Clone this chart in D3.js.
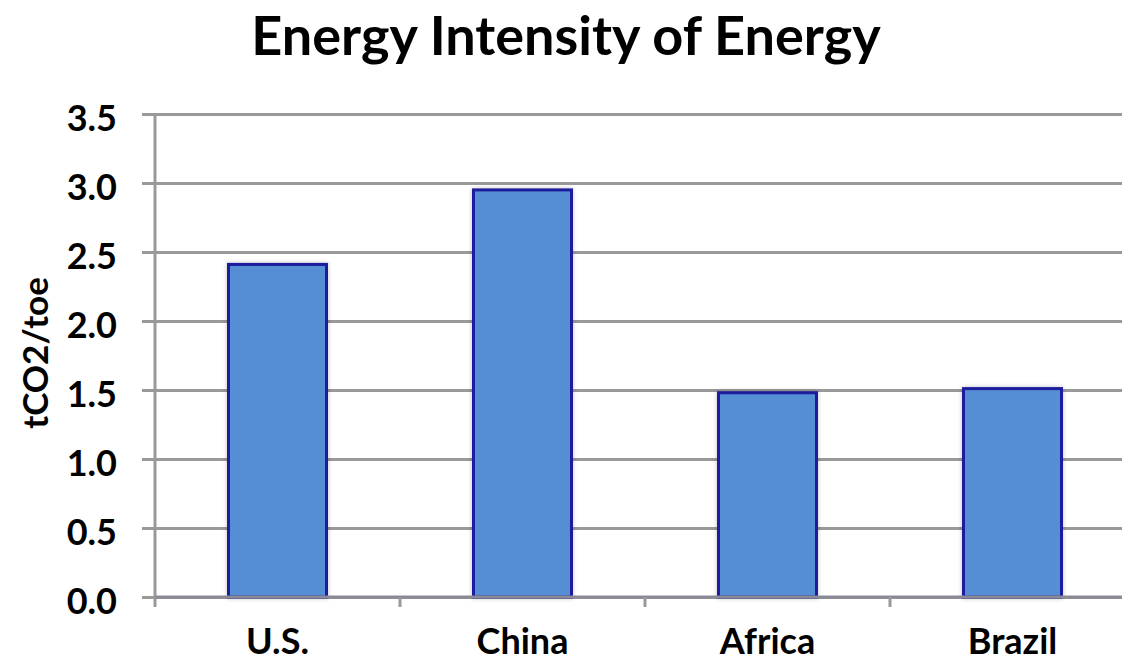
<!DOCTYPE html>
<html>
<head>
<meta charset="utf-8">
<script src="https://cdn.jsdelivr.net/npm/d3@7"></script>
<style>
  html, body { margin: 0; padding: 0; background: #fff; }
  svg { display: block; }
  text { font-family: "Lato", "Open Sans", sans-serif; font-weight: bold; fill: #000; }
</style>
</head>
<body>
<svg id="chart" width="1122" height="661"></svg>
<script>
const categories = ["U.S.", "China", "Africa", "Brazil"];
const values = [2.41, 2.95, 1.48, 1.51];
const yTicks = [0, 0.5, 1.0, 1.5, 2.0, 2.5, 3.0, 3.5];
const titleText = "Energy Intensity of Energy";
const yLabel = "tCO2/toe";

const svg = d3.select("#chart");
const W = 1122, H = 661;
const m = { left: 155, top: 114, bottom: 597 };
const step = 245;

const x = d3.scaleBand()
  .domain(categories)
  .range([m.left, m.left + step * categories.length])
  .paddingInner(0.6)
  .paddingOuter(0.3);

const y = d3.scaleLinear().domain([0, 3.5]).range([m.bottom, m.top]);

const defs = svg.append("defs");
const f = defs.append("filter").attr("id", "shadow")
  .attr("x", "-20%").attr("y", "-20%").attr("width", "140%").attr("height", "140%");
f.append("feDropShadow").attr("dx", 0).attr("dy", 0).attr("stdDeviation", 2)
  .attr("flood-color", "#000").attr("flood-opacity", 0.25);

// Gridlines + left ticks via axis
const yAxis = d3.axisLeft(y).tickValues(yTicks).tickSize(-(W - m.left)).tickSizeOuter(0)
  .tickFormat(d3.format(".1f"));
const gy = svg.append("g").attr("transform", `translate(${m.left},0)`).call(yAxis);
gy.select(".domain").remove();
gy.selectAll(".tick line").attr("stroke", "#999").attr("stroke-width", 3).attr("x1", -13);
gy.selectAll(".tick text")
  .attr("x", -38).attr("dy", "0.45em")
  .style("font-size", "36px").style("font-family", "Lato, sans-serif").style("font-weight", "bold")
  .attr("fill", "#000");

// y axis line
svg.append("line")
  .attr("x1", m.left).attr("x2", m.left)
  .attr("y1", y(3.5) - 1).attr("y2", m.bottom + 10)
  .attr("stroke", "#999").attr("stroke-width", 3);

// bars
svg.append("g").selectAll("rect").data(categories).join("rect")
  .attr("x", d => x(d))
  .attr("y", (d, i) => y(values[i]))
  .attr("width", x.bandwidth())
  .attr("height", (d, i) => y(0) - y(values[i]))
  .attr("fill", "#558ed5")
  .attr("stroke", "#1c1c9c")
  .attr("stroke-width", 3)
  .attr("filter", "url(#shadow)");

// x axis baseline over bars
svg.append("line")
  .attr("x1", m.left).attr("x2", W)
  .attr("y1", y(0)).attr("y2", y(0))
  .attr("stroke", "#8a8a96").attr("stroke-width", 3);

// category boundary ticks
const bounds = d3.range(categories.length + 1).map(i => m.left + i * x.step());
svg.append("g").selectAll("line").data(bounds.slice(1)).join("line")
  .attr("x1", d => d).attr("x2", d => d)
  .attr("y1", y(0)).attr("y2", y(0) + 10)
  .attr("stroke", "#999").attr("stroke-width", 3);

// category labels
svg.append("g").selectAll("text").data(categories).join("text")
  .attr("x", d => x(d) + x.bandwidth() / 2)
  .attr("y", 654)
  .attr("text-anchor", "middle")
  .style("font-size", "36px")
  .text(d => d);

// y label
svg.append("text")
  .attr("transform", `translate(48,353) rotate(-90)`)
  .attr("text-anchor", "middle")
  .style("font-size", "35px")
  .text(yLabel);

// title
svg.append("text")
  .attr("x", 566).attr("y", 55)
  .attr("text-anchor", "middle")
  .style("font-size", "54px")
  .text(titleText);
</script>
</body>
</html>
